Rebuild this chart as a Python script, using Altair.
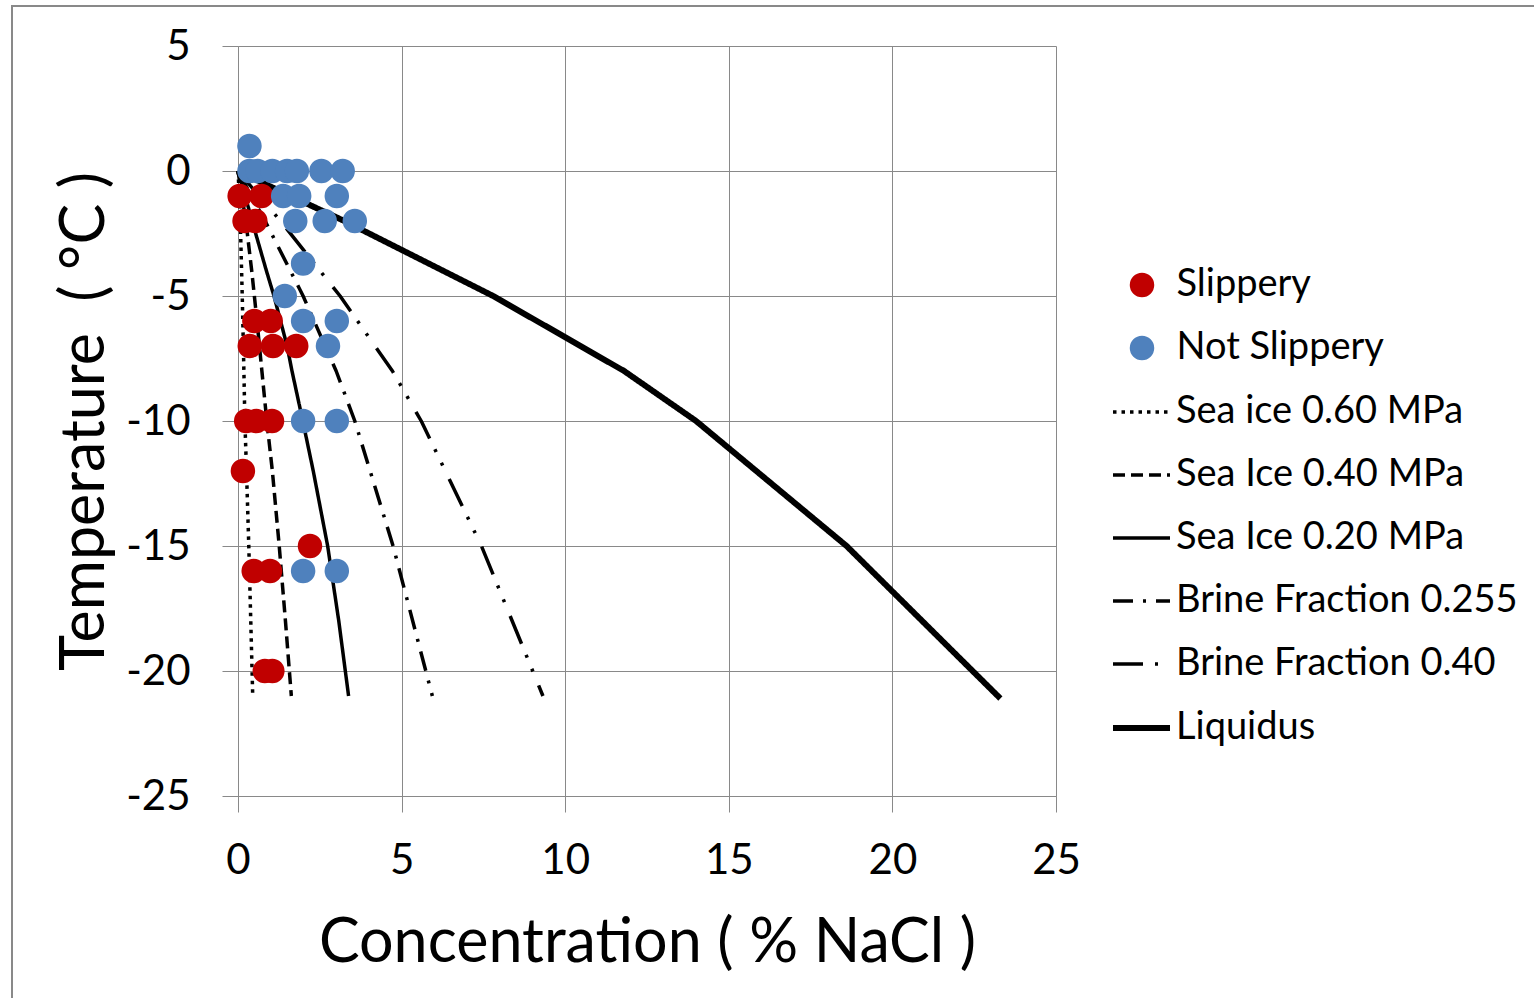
import altair as alt
import pandas as pd

# ---------------- data ----------------
slip_x = [0.05, 0.72, 0.2, 0.53, 0.5, 1.0, 0.36, 1.07, 1.78, 0.25, 0.56, 1.04, 0.15, 2.2, 0.48, 0.98, 0.82, 1.05]
slip_t = [-1, -1, -2, -2, -6, -6, -7, -7, -7, -10, -10, -10, -12, -15, -16, -16, -20, -20]

not_x = [0.35, 0.35, 0.6, 1.05, 1.5, 1.8, 2.55, 3.2, 1.38, 1.87, 3.02, 1.75, 2.65, 3.57,
         1.99, 1.43, 1.99, 3.02, 2.75, 1.99, 3.02, 1.99, 3.02]
not_t = [1, 0, 0, 0, 0, 0, 0, 0, -1, -1, -1, -2, -2, -2,
         -3.7, -5, -6, -6, -7, -10, -10, -16, -16]

series_names = ["Sea ice 0.60 MPa", "Sea Ice 0.40 MPa", "Sea Ice 0.20 MPa",
                "Brine Fraction 0.255", "Brine Fraction 0.40", "Liquidus"]

seaice060_t = [0, -1, -2, -3, -5, -8, -10, -12, -15, -18, -21]
seaice060_x = [0, 0.04, 0.07, 0.09, 0.13, 0.18, 0.21, 0.26, 0.33, 0.39, 0.45]

seaice040_t = [0, -1, -2, -3, -4, -5, -6, -8, -10, -12, -15, -18, -21]
seaice040_x = [0, 0.12, 0.24, 0.33, 0.42, 0.5, 0.58, 0.73, 0.88, 1.05, 1.26, 1.45, 1.63]

seaice020_t = [0, -1, -2, -3, -4, -5, -6, -7, -8, -10, -12, -15, -18, -21]
seaice020_x = [0, 0.22, 0.43, 0.65, 0.87, 1.1, 1.3, 1.5, 1.65, 1.98, 2.3, 2.74, 3.08, 3.38]

brine0255_t = [0, -1, -2, -5, -8, -10, -15, -21]
brine0255_x = [0, 0.41, 0.83, 1.99, 3.0, 3.57, 4.74, 5.94]

brine040_t = [0, -1, -2, -5, -8, -10, -15, -21]
brine040_x = [0, 0.64, 1.3, 3.12, 4.72, 5.6, 7.44, 9.32]

liquidus_t = [0, -1, -2, -5, -8, -10, -15, -21.1]
liquidus_x = [0, 1.6, 3.25, 7.8, 11.8, 14.0, 18.6, 23.3]

x_ticks = [0, 5, 10, 15, 20, 25]
y_ticks = [5, 0, -5, -10, -15, -20, -25]

# ---------------- tables ----------------
line_x = [seaice060_x, seaice040_x, seaice020_x, brine0255_x, brine040_x, liquidus_x]
line_t = [seaice060_t, seaice040_t, seaice020_t, brine0255_t, brine040_t, liquidus_t]
rows = []
for name, xs, ts in zip(series_names, line_x, line_t):
    for i, (xv, tv) in enumerate(zip(xs, ts)):
        rows.append({"series": name, "x": xv, "t": tv, "i": i})
lines_df = pd.DataFrame(rows)

pts_df = pd.DataFrame({
    "x": slip_x + not_x,
    "t": slip_t + not_t,
    "group": ["Slippery"] * len(slip_x) + ["Not Slippery"] * len(not_x),
})

# ---------------- styling ----------------
FONT = "Lato"
GRID = "#898989"
dashes = [[3.5, 5], [12, 6], [1, 0], [20, 10, 3, 10], [30, 12, 3, 12, 3, 15], [1, 0]]
widths = [3.5, 3.5, 3.5, 3.5, 3.5, 6]

common_axis = dict(
    grid=True, gridColor=GRID, gridWidth=1,
    domainColor=GRID, domainWidth=1,
    tickColor=GRID, tickWidth=1, tickSize=16,
    labelFont=FONT, labelFontSize=42, labelColor="black",
    labelFlush=False, labelOverlap=False,
    titleFont=FONT, titleFontSize=61, titleFontWeight="normal", titleColor="black",
    titleAlign="center", titleBaseline="alphabetic",
)

x_enc = alt.X("x:Q", scale=alt.Scale(domain=[0, 25], nice=False, zero=False),
              axis=alt.Axis(values=x_ticks, title="Concentration ( % NaCl )",
                            labelPadding=28, titleX=409, titleY=165, **common_axis))
y_enc = alt.Y("t:Q", scale=alt.Scale(domain=[-25, 5], nice=False, zero=False),
              axis=alt.Axis(values=y_ticks, title="Temperature\u00a0\u00a0( °C )",
                            labelExpr="datum.value + ''",
                            labelPadding=32, titleX=-135, titleY=375, **common_axis))

line_legend = alt.Legend(
    title=None, orient="none", legendX=872, legendY=335.5, direction="vertical",
    padding=0, symbolType="stroke", symbolSize=3249, symbolStrokeColor="black",
    labelFont=FONT, labelFontSize=38, labelColor="black", labelOffset=3,
    rowPadding=13, labelLimit=600,
)
point_legend = alt.Legend(
    title=None, orient="none", legendX=885, legendY=220, direction="vertical",
    padding=0, symbolType="circle", symbolSize=600, symbolStrokeWidth=0,
    labelFont=FONT, labelFontSize=38, labelColor="black", labelOffset=15.5,
    rowPadding=25, labelLimit=600,
)

border = alt.Chart(alt.Data(values=[{}])).mark_rect(
    fillOpacity=0, stroke=GRID, strokeWidth=2
).encode(x=alt.value(-226), x2=alt.value(1700), y=alt.value(-40), y2=alt.value(1200))

lines = alt.Chart(lines_df).mark_line(color="black", strokeCap="butt", strokeJoin="round").encode(
    x=x_enc, y=y_enc, order="i:Q",
    strokeDash=alt.StrokeDash("series:N", scale=alt.Scale(domain=series_names, range=dashes),
                              legend=line_legend),
    strokeWidth=alt.StrokeWidth("series:N",
                                scale=alt.Scale(type="ordinal", domain=series_names, range=widths),
                                legend=line_legend),
)

points = alt.Chart(pts_df).mark_circle(size=600, opacity=1).encode(
    x=x_enc, y=y_enc,
    color=alt.Color("group:N",
                    scale=alt.Scale(domain=["Slippery", "Not Slippery"], range=["#C00000", "#4F81BD"]),
                    legend=point_legend),
)

chart = alt.layer(border, lines, points).properties(
    width=818, height=750,
    padding={"left": 238, "top": 46, "right": 478, "bottom": 202},
    autosize=alt.AutoSizeParams(type="none"),
    background="white",
).configure_view(stroke=None)

chart.save("out.html", embed_options={"renderer": "svg", "actions": False})
